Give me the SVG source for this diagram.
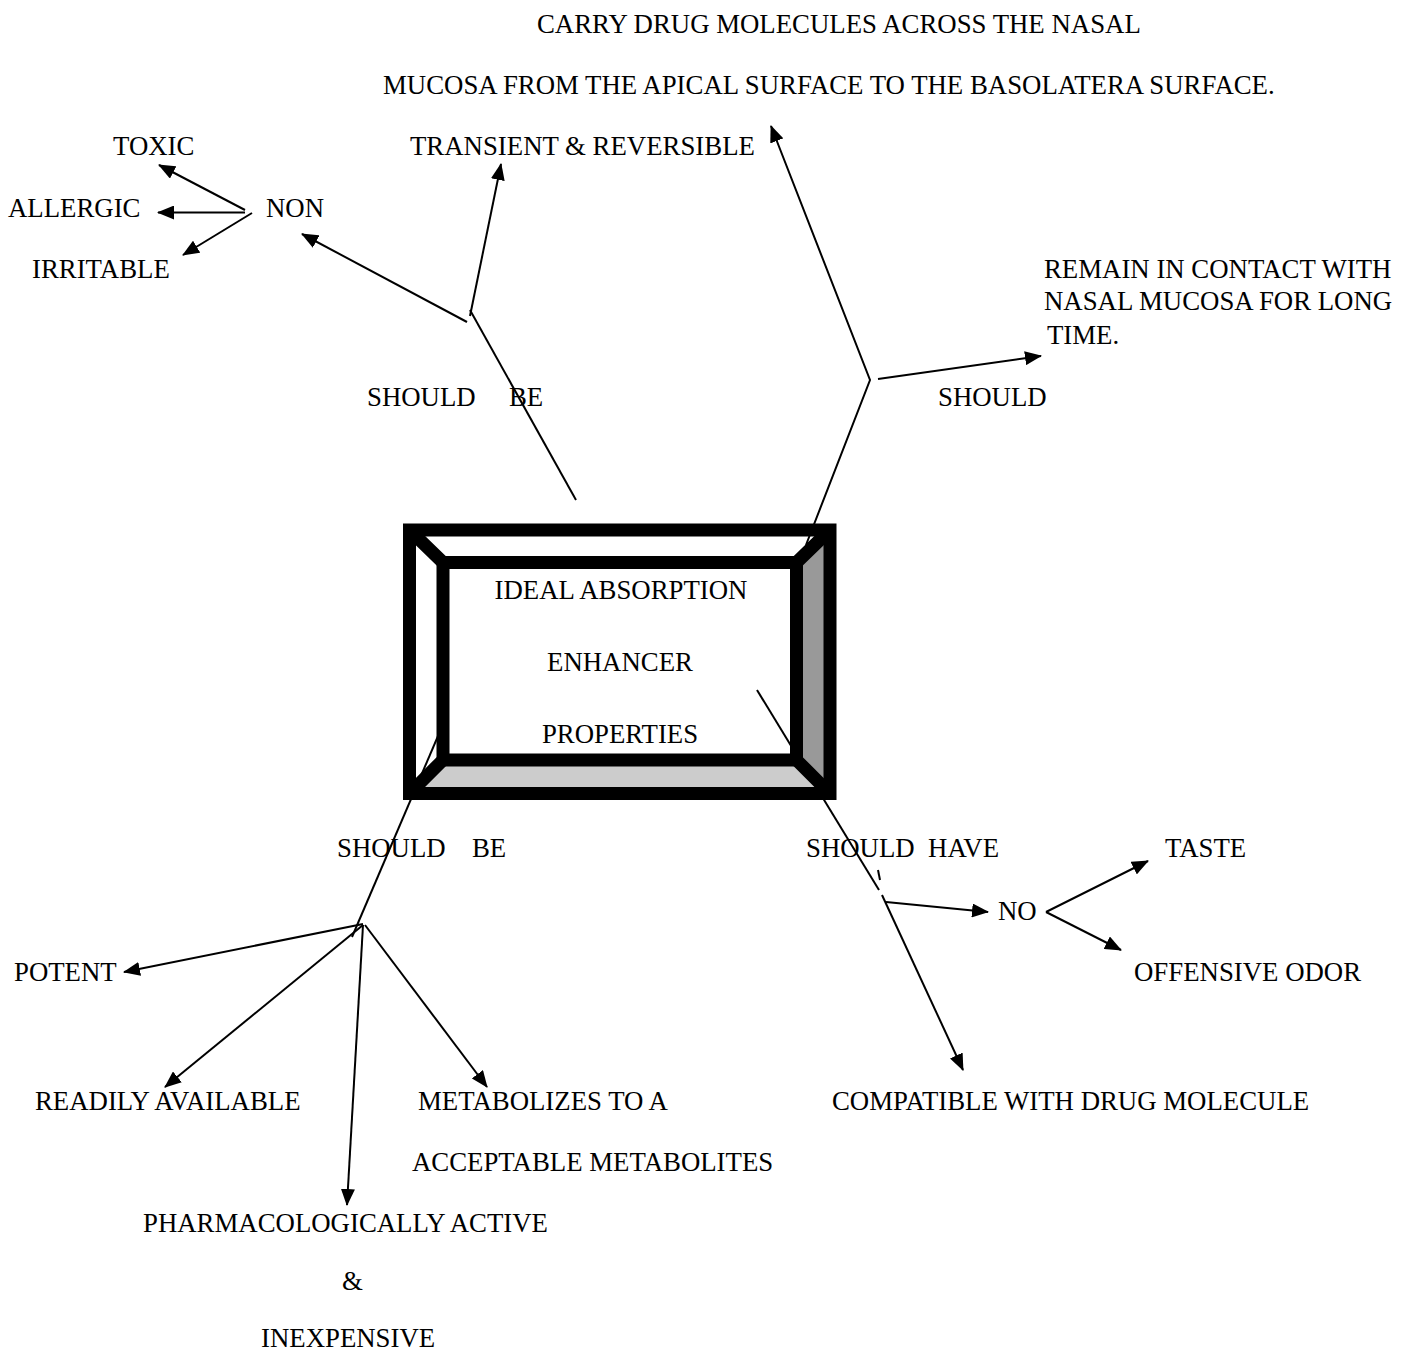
<svg xmlns="http://www.w3.org/2000/svg" width="1410" height="1351" viewBox="0 0 1410 1351">
<defs>
<style>
text{font-family:"Liberation Serif","Times New Roman",serif;font-size:26.8px;fill:#000}
.ln{stroke:#000;stroke-width:2;fill:none}
.fr{stroke:#000;stroke-width:13;fill:none;stroke-linejoin:miter}
</style>
<marker id="ah" markerWidth="17" markerHeight="14" refX="16" refY="7" orient="auto" markerUnits="userSpaceOnUse"><path d="M0,0 L17,7 L0,14 z" fill="#000"/></marker>
</defs>
<rect width="1410" height="1351" fill="#fff"/>

<g id="center-box">
<polygon points="409.5,530 830,530 796.5,562.5 443,562.5" fill="#fff"/>
<polygon points="409.5,530 443,562.5 443,760 409.5,793.5" fill="#fff"/>
<polygon points="830,530 830,793.5 796.5,760 796.5,562.5" fill="#999"/>
<polygon points="409.5,793.5 830,793.5 796.5,760 443,760" fill="#ccc"/>
<rect x="443" y="562.5" width="353.5" height="197.5" fill="#fff"/>
<rect class="fr" x="409.5" y="530" width="420.5" height="263.5"/>
<rect class="fr" x="443" y="562.5" width="353.5" height="197.5"/>
<path class="fr" d="M409.5,530 L443,562.5 M830,530 L796.5,562.5 M409.5,793.5 L443,760 M830,793.5 L796.5,760"/>
<text x="621" y="599" text-anchor="middle">IDEAL ABSORPTION</text>
<text x="620" y="671" text-anchor="middle">ENHANCER</text>
<text x="620" y="743" text-anchor="middle">PROPERTIES</text>
</g>

<g id="connectors">
<!-- top-left branch -->
<path class="ln" d="M576,500 L470,310"/>
<path class="ln" d="M467,322 L302,234" marker-end="url(#ah)"/>
<path class="ln" d="M470,316 L501,164" marker-end="url(#ah)"/>
<path class="ln" d="M245,210 L159,165" marker-end="url(#ah)"/>
<path class="ln" d="M245,212.5 L158,212.5" marker-end="url(#ah)"/>
<path class="ln" d="M252,213 L183,255" marker-end="url(#ah)"/>
<!-- top-right branch -->
<path class="ln" d="M806,545 L870,380 L771,126" marker-end="url(#ah)"/>
<path class="ln" d="M878,379 L1041,356" marker-end="url(#ah)"/>
<!-- bottom-left branch -->
<path class="ln" d="M447,715 L352,937"/>
<path class="ln" d="M363,924 L124,972" marker-end="url(#ah)"/>
<path class="ln" d="M363,925 L165,1087" marker-end="url(#ah)"/>
<path class="ln" d="M363,925 L347,1205" marker-end="url(#ah)"/>
<path class="ln" d="M365,925 L487,1087" marker-end="url(#ah)"/>
<!-- bottom-right branch -->
<path class="ln" d="M757,690 L879,890"/>
<path class="ln" d="M878,870 L880,880"/>
<path class="ln" d="M882,895 L963,1070" marker-end="url(#ah)"/>
<path class="ln" d="M886,902 L988,912" marker-end="url(#ah)"/>
<path class="ln" d="M1046,912 L1148,861" marker-end="url(#ah)"/>
<path class="ln" d="M1046,912 L1121,950" marker-end="url(#ah)"/>
</g>

<g id="n-carry"><text x="537" y="33">CARRY DRUG MOLECULES ACROSS THE NASAL</text>
<text x="383" y="94">MUCOSA FROM THE APICAL SURFACE TO THE BASOLATERA SURFACE.</text></g>
<g id="n-transient"><text x="410" y="155">TRANSIENT &amp; REVERSIBLE</text></g>
<g id="n-toxic"><text x="113" y="155">TOXIC</text></g>
<g id="n-allergic"><text x="8" y="217">ALLERGIC</text></g>
<g id="n-non"><text x="266" y="217">NON</text></g>
<g id="n-irritable"><text x="32" y="278">IRRITABLE</text></g>
<g id="n-remain"><text x="1044" y="278">REMAIN IN CONTACT WITH</text>
<text x="1044" y="310">NASAL MUCOSA FOR LONG</text>
<text x="1047" y="344">TIME.</text></g>
<g id="l-should-be-top"><text x="367" y="406">SHOULD</text><text x="509" y="406">BE</text></g>
<g id="l-should-top"><text x="938" y="406">SHOULD</text></g>
<g id="l-should-be-bottom"><text x="337" y="857">SHOULD</text><text x="472" y="857">BE</text></g>
<g id="l-should-have"><text x="806" y="857" xml:space="preserve">SHOULD  HAVE</text></g>
<g id="n-taste"><text x="1165" y="857">TASTE</text></g>
<g id="n-no"><text x="998" y="920">NO</text></g>
<g id="n-odor"><text x="1134" y="981">OFFENSIVE ODOR</text></g>
<g id="n-potent"><text x="14" y="981">POTENT</text></g>
<g id="n-readily"><text x="35" y="1110">READILY AVAILABLE</text></g>
<g id="n-metab"><text x="418" y="1110">METABOLIZES TO A</text>
<text x="412" y="1171">ACCEPTABLE METABOLITES</text></g>
<g id="n-compatible"><text x="832" y="1110">COMPATIBLE WITH DRUG MOLECULE</text></g>
<g id="n-pharma"><text x="143" y="1232">PHARMACOLOGICALLY ACTIVE</text>
<text x="342" y="1290">&amp;</text>
<text x="261" y="1347">INEXPENSIVE</text></g>
</svg>
